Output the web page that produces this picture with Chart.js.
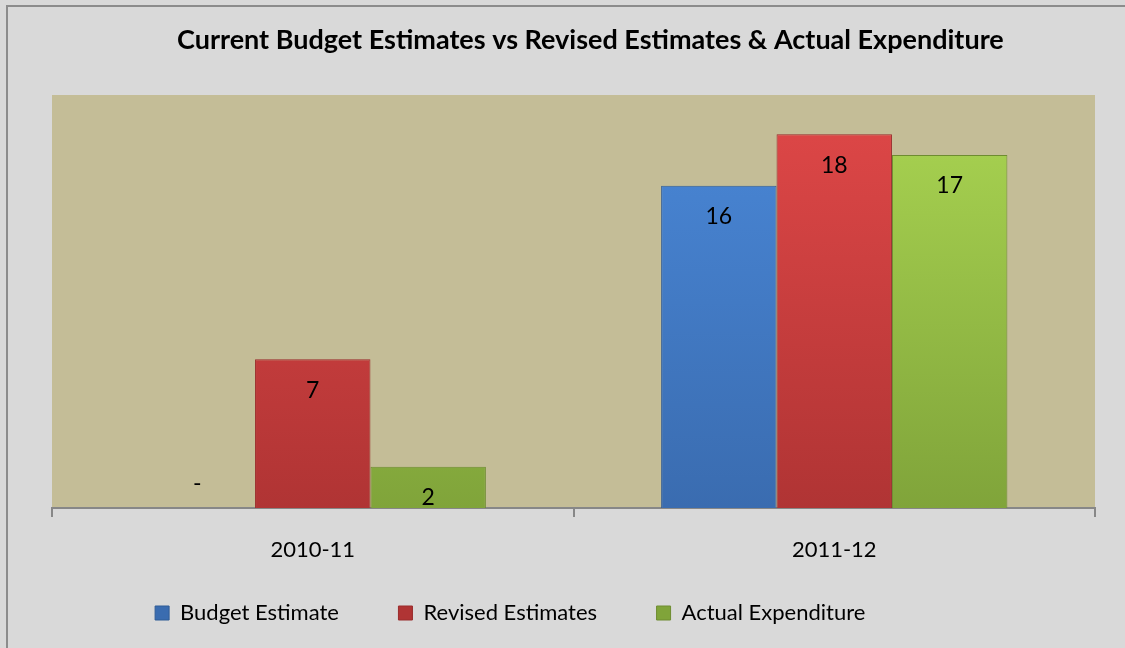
<!DOCTYPE html>
<html lang="en">
<head>
  <meta charset="UTF-8">
  <title>Current Budget Estimates vs Revised Estimates &amp; Actual Expenditure</title>
  <script src="https://cdn.jsdelivr.net/npm/chart.js"></script>
  <style>
    html, body {
      margin: 0;
      padding: 0;
      overflow: hidden;
      width: 1125px;
      height: 648px;
      background-color: #d9d9d9;
    }

    .frame {
      position: absolute;
      left: 6px;
      top: 5px;
      width: 1130px;
      height: 660px;
      border: 2px solid #8c8c8c;
      box-sizing: border-box;
    }

    .chart-box {
      position: absolute;
      left: 0;
      top: 0;
      width: 1125px;
      height: 648px;
    }
  </style>
</head>
<body>
  <div class="frame"></div>
  <div class="chart-box">
    <canvas id="budgetChart" width="1125" height="648"></canvas>
  </div>

  <script>
    var years = ['2010-11', '2011-12'];
    var budgetEstimate = [0, 15.6];
    var revisedEstimates = [7.2, 18.1];
    var actualExpenditure = [2.0, 17.1];
    var yMax = 20;

    var fontFamily = 'Lato, "Open Sans", sans-serif';

    function barGradient(top, bottom) {
      return function(context) {
        var chart = context.chart;
        var area = chart.chartArea;
        if (!area) return top;
        var g = chart.ctx.createLinearGradient(0, area.top, 0, area.bottom);
        g.addColorStop(0, top);
        g.addColorStop(1, bottom);
        return g;
      };
    }

    // tan plot background
    var plotBackground = {
      id: 'plotBackground',
      beforeDraw: function(chart) {
        var a = chart.chartArea;
        var ctx = chart.ctx;
        ctx.save();
        ctx.fillStyle = '#c4bd97';
        ctx.fillRect(a.left, a.top, a.right - a.left, a.bottom - a.top);
        ctx.restore();
      }
    };

    // value labels inside the top of each bar, "-" for zero
    var valueLabels = {
      id: 'valueLabels',
      afterDatasetsDraw: function(chart) {
        var ctx = chart.ctx;
        ctx.save();
        ctx.font = '23px ' + fontFamily;
        ctx.fillStyle = '#000';
        ctx.textAlign = 'center';
        ctx.textBaseline = 'middle';
        chart.data.datasets.forEach(function(ds, i) {
          chart.getDatasetMeta(i).data.forEach(function(bar, j) {
            var v = ds.data[j];
            if (v === 0) {
              ctx.fillText('-', bar.x, bar.base - 24);
            } else {
              ctx.fillText(Math.round(v), bar.x, bar.y + 31);
            }
          });
        });
        ctx.restore();
      }
    };

    var ctx = document.getElementById('budgetChart').getContext('2d');
    var budgetChart = new Chart(ctx, {
      type: 'bar',
      data: {
        labels: years,
        datasets: [
          {
            label: 'Budget Estimate',
            data: budgetEstimate,
            backgroundColor: barGradient('#4a88d8', '#3a6cb0'),
            borderColor: '#2f5c96',
            borderWidth: 1
          },
          {
            label: 'Revised Estimates',
            data: revisedEstimates,
            backgroundColor: barGradient('#e04848', '#b03434'),
            borderColor: '#9a2c2c',
            borderWidth: 1
          },
          {
            label: 'Actual Expenditure',
            data: actualExpenditure,
            backgroundColor: barGradient('#aad552', '#80a43a'),
            borderColor: '#6e8c30',
            borderWidth: 1
          }
        ]
      },
      options: {
        responsive: false,
        animation: false,
        layout: {
          padding: { left: 52, right: 30, top: 0, bottom: 14 }
        },
        datasets: {
          bar: {
            categoryPercentage: 0.664,
            barPercentage: 1
          }
        },
        scales: {
          x: {
            grid: {
              display: true,
              drawOnChartArea: false,
              drawTicks: true,
              tickLength: 9,
              color: '#878787',
              lineWidth: 2
            },
            border: {
              display: true,
              color: '#878787',
              width: 2
            },
            ticks: {
              color: '#000',
              padding: 20,
              font: { family: fontFamily, size: 22 }
            },
            afterFit: function(scale) {
              scale.height = 84;
            }
          },
          y: {
            display: false,
            min: 0,
            max: yMax
          }
        },
        plugins: {
          title: {
            display: true,
            // leading spaces nudge the title right of the canvas centre, as in the original
            text: '\u2003\u2002Current Budget Estimates vs Revised Estimates & Actual Expenditure',
            color: '#000',
            font: { family: fontFamily, size: 27, weight: 'bold' },
            padding: { top: 24, bottom: 38.6 }
          },
          legend: {
            position: 'bottom',
            labels: {
              color: '#000',
              boxWidth: 14,
              boxHeight: 14,
              padding: 10,
              font: { family: fontFamily, size: 22 },
              generateLabels: function(chart) {
                var items = Chart.defaults.plugins.legend.labels.generateLabels(chart);
                items.forEach(function(item, i) {
                  // wide gaps between entries, and the whole legend sits left of centre
                  item.text += (i < items.length - 1) ? '\u2003\u2003\u2003' : '\u2003\u2003\u2003\u2003\u2003\u2003\u2003\u2002';
                });
                return items;
              }
            }
          },
          tooltip: { enabled: false }
        }
      },
      plugins: [plotBackground, valueLabels]
    });
  </script>
</body>
</html>
